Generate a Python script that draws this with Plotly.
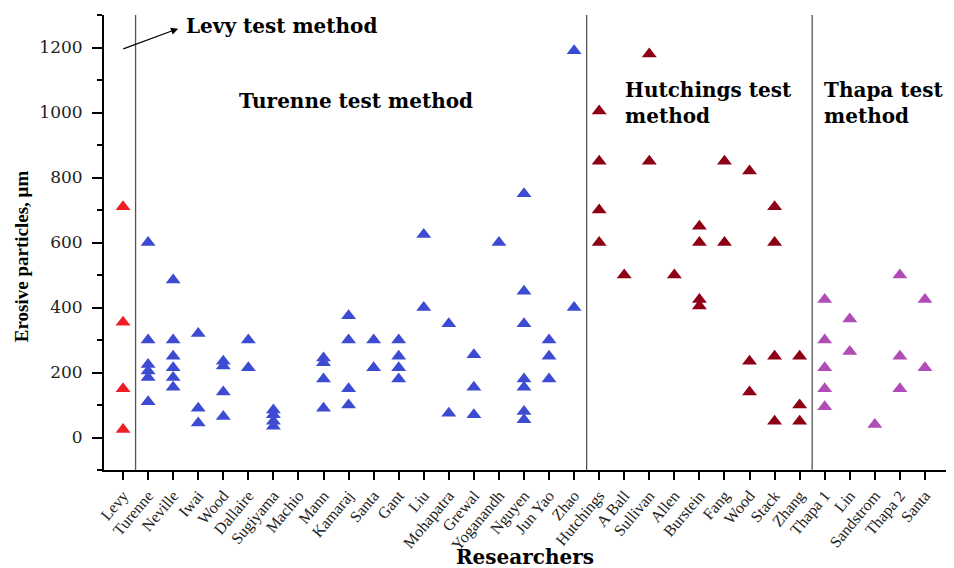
import plotly.graph_objects as go

researchers = ["Levy", "Turenne", "Neville", "Iwai", "Wood", "Dallaire", "Sugiyama", "Machio",
               "Mann", "Kamaraj", "Santa", "Gant", "Liu", "Mohapatra", "Grewal", "Yoganandh",
               "Nguyen", "Jun Yao", "Zhao", "Hutchings", "A Ball", "Sullivan", "Allen", "Burstein",
               "Fang", "Wood", "Stack", "Zhang", "Thapa 1", "Lin", "Sandstrom", "Thapa 2", "Santa"]

values = [
    [710, 355, 150, 25],                      # Levy
    [600, 300, 225, 205, 185, 110],           # Turenne
    [485, 300, 250, 215, 185, 155],           # Neville
    [320, 90, 45],                            # Iwai
    [235, 220, 140, 65],                      # Wood
    [300, 215],                               # Dallaire
    [85, 70, 50, 35],                         # Sugiyama
    [],                                       # Machio
    [245, 230, 180, 90],                      # Mann
    [375, 300, 150, 100],                     # Kamaraj
    [300, 215],                               # Santa
    [300, 250, 215, 180],                     # Gant
    [625, 400],                               # Liu
    [350, 75],                                # Mohapatra
    [255, 155, 70],                           # Grewal
    [600],                                    # Yoganandh
    [750, 450, 350, 180, 155, 80, 55],        # Nguyen
    [300, 250, 180],                          # Jun Yao
    [1190, 400],                              # Zhao
    [1005, 850, 700, 600],                    # Hutchings
    [500],                                    # A Ball
    [1180, 850],                              # Sullivan
    [500],                                    # Allen
    [650, 600, 425, 405],                     # Burstein
    [850, 600],                               # Fang
    [820, 235, 140],                          # Wood
    [710, 600, 250, 50],                      # Stack
    [250, 100, 50],                           # Zhang
    [425, 300, 215, 150, 95],                 # Thapa 1
    [365, 265],                               # Lin
    [40],                                     # Sandstrom
    [500, 250, 150],                          # Thapa 2
    [425, 215],                               # Santa
]

groups = [
    ("Levy test method", 0, 1, "#ee1c25"),
    ("Turenne test method", 1, 19, "#3d4bd2"),
    ("Hutchings test method", 19, 28, "#8e0016"),
    ("Thapa test method", 28, 33, "#b04cb6"),
]
separators = [0.5, 18.5, 27.5]

fig = go.Figure()
for name, a, b, col in groups:
    xs, ys = [], []
    for i in range(a, b):
        for v in values[i]:
            xs.append(i)
            ys.append(v)
    fig.add_trace(go.Scatter(x=xs, y=ys, mode="markers", name=name,
                             marker=dict(symbol="triangle-up", size=13, color=col,
                                         line=dict(width=0))))

for s in separators:
    fig.add_shape(type="line", x0=s, x1=s, y0=0, y1=1, yref="paper", xref="x",
                  line=dict(color="#555555", width=1.3))

serif = "Liberation Serif"
wide = "DejaVu Serif"
fig.add_annotation(x=2.2, y=1258, ax=-0.05, ay=1194, xref="x", yref="y", axref="x", ayref="y",
                   showarrow=True, arrowhead=2, arrowsize=1.2, arrowwidth=1.2, arrowcolor="black", text="")
fig.add_annotation(x=2.45, y=1265, xref="x", yref="y", text="<b>Levy test method</b>", showarrow=False,
                   xanchor="left", font=dict(family=wide, size=20, color="black"))
fig.add_annotation(x=4.55, y=1036, xref="x", yref="y", text="<b>Turenne test method</b>", showarrow=False,
                   xanchor="left", font=dict(family=wide, size=20, color="black"))
fig.add_annotation(x=19.95, y=1028, xref="x", yref="y", text="<b>Hutchings test<br>method</b>", showarrow=False,
                   xanchor="left", align="left", font=dict(family=wide, size=20, color="black"))
fig.add_annotation(x=27.9, y=1028, xref="x", yref="y", text="<b>Thapa test<br>method</b>", showarrow=False,
                   xanchor="left", align="left", font=dict(family=wide, size=20, color="black"))

# axis titles
fig.add_annotation(x=0.498, y=-0.191, xref="paper", yref="paper", text="<b>Researchers</b>", showarrow=False,
                   xanchor="center", yanchor="middle", font=dict(family=wide, size=20, color="black"))
fig.add_annotation(x=-0.0981, y=0.47, xref="paper", yref="paper", text="<b>Erosive particles, μm</b>",
                   showarrow=False, textangle=-90, xanchor="center", yanchor="middle",
                   font=dict(family=serif, size=19, color="black"))

fig.update_layout(
    width=954, height=568,
    margin=dict(l=96, r=12, t=7, b=106),
    plot_bgcolor="white", paper_bgcolor="white",
    showlegend=False,
    font=dict(family=serif, color="black"),
    xaxis=dict(range=[-0.76, 33.0], tickvals=list(range(len(researchers))), ticktext=researchers,
               tickangle=-50, ticks="outside", ticklen=8, tickwidth=2, tickcolor="black",
               showline=True, linecolor="black", linewidth=2, showgrid=False, zeroline=False,
               automargin=False,
               tickfont=dict(family=serif, size=16, color="#222222")),
    yaxis=dict(range=[-100, 1300], tickvals=[0, 200, 400, 600, 800, 1000, 1200],
               ticks="outside", ticklen=10, tickwidth=2, tickcolor="black", ticklabelstandoff=6,
               minor=dict(dtick=100, ticks="outside", ticklen=5, tickwidth=2, tickcolor="black", tick0=0),
               showline=True, linecolor="black", linewidth=2, showgrid=False, zeroline=False,
               automargin=False,
               tickfont=dict(family=wide, size=17, color="#222222")),
)

fig.write_html("out.html")
